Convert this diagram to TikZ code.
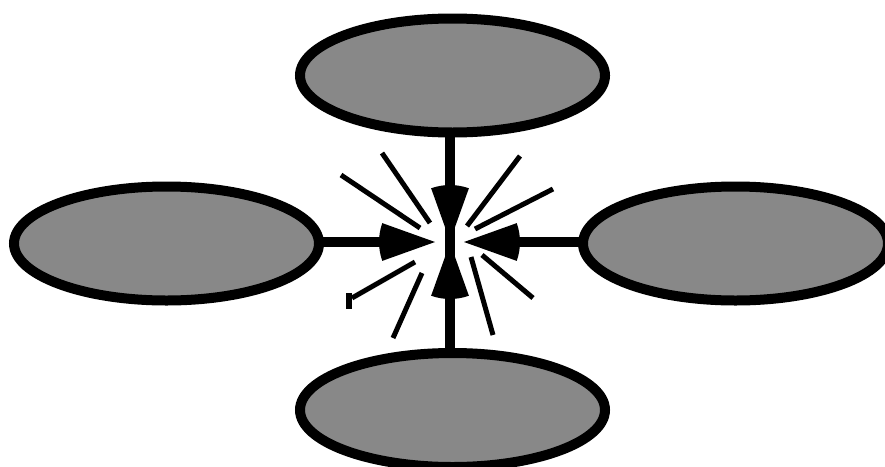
\documentclass[tikz,border=0pt]{standalone}
\usetikzlibrary{shapes.geometric}
\definecolor{ellgray}{HTML}{888888}
\tikzset{
  blob/.style={ellipse, draw=black, fill=ellgray, line width=10pt,
    minimum width=305pt, minimum height=114pt, inner sep=0pt, outer sep=0pt},
  conn/.style={line width=10pt, draw=black},
  spike/.style={line width=5pt, draw=black, line cap=butt},
}
\begin{document}
\begin{tikzpicture}[x=1pt,y=-1pt]
\useasboundingbox (0,0) rectangle (885,466);
\begin{scope}
\clip (0,0) rectangle (885,466);
% ellipses
\node[blob] (top) at (452.5,75.5) {};
\node[blob] (left) at (166.5,243.5) {};
\node[blob] (right) at (735.5,243.5) {};
\node[blob] (bot) at (452.5,410) {};
% arrow tips
\coordinate (ttip) at (450,241);
\coordinate (btip) at (450,243);
\coordinate (ltip) at (435,242);
\coordinate (rtip) at (464,242);
% connectors
\draw[conn] (top.south -| ttip) -- ([yshift=-40]ttip);
\draw[conn] (bot.north -| btip) -- ([yshift=40]btip);
\draw[conn] (left.east |- ltip) -- ([xshift=-40]ltip);
\draw[conn] (right.west |- rtip) -- ([xshift=40]rtip);
% arrowheads (wedges with arc base)
\fill (ttip) -- ++(-90-19.7:56) arc[start angle=-109.7, end angle=-70.3, radius=56] -- cycle;
\fill (btip) -- ++(90-19.7:56) arc[start angle=70.3, end angle=109.7, radius=56] -- cycle;
\fill (ltip) -- ++(180-19.7:56) arc[start angle=160.3, end angle=199.7, radius=56] -- cycle;
\fill (rtip) -- ++(-19.7:56) arc[start angle=-19.7, end angle=19.7, radius=56] -- cycle;
% spikes
\draw[spike] (341,175) -- (420,228);
\draw[spike] (382,153) -- (430,223);
\draw[spike] (520,156) -- (467,226);
\draw[spike] (553,189) -- (475,229);
\draw[spike] (352,298) -- (415,262);
\draw[spike] (422,273) -- (393,338);
\draw[spike] (471,257) -- (493,335);
\draw[spike] (482,255) -- (533,298);
\fill (346,293) rectangle (352,309);
\end{scope}
\end{tikzpicture}
\end{document}
